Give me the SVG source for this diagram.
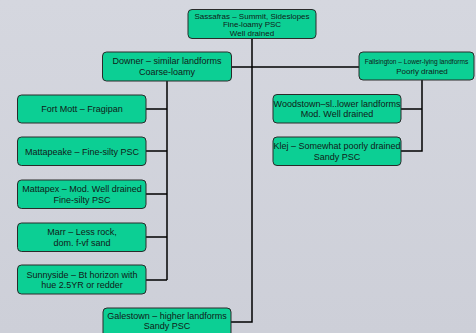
<svg xmlns="http://www.w3.org/2000/svg" width="476" height="333" viewBox="0 0 476 333">
<defs>
<linearGradient id="bg" x1="0" y1="0" x2="0" y2="1">
<stop offset="0" stop-color="#d5d7df"/>
<stop offset="1" stop-color="#cdcfd8"/>
</linearGradient>
<style>
.box{fill:#0ccf94;stroke:#2a2a2a;stroke-width:1}
.t{font-family:"Liberation Sans",Arial,sans-serif;font-size:9px;fill:#102018;text-anchor:middle}
.s{font-size:8px}
.c{fill:none;stroke:#000;stroke-width:1.5}
</style>
</defs>
<rect width="476" height="333" fill="url(#bg)"/>
<g id="connectors">
<path class="c" d="M252 39V322H231"/>
<path class="c" d="M232 67H359"/>
<path class="c" d="M167 81V280"/>
<path class="c" d="M146 109H167M146 151H167M146 194H167M146 237H167M146 280H167"/>
<path class="c" d="M422 80V151H401M401 109H422"/>
</g>
<g id="sassafras">
<rect class="box" x="188" y="9.5" width="128" height="29" rx="4"/>
<text class="t s" x="252" y="18.5">Sassafras – Summit, Sideslopes</text>
<text class="t s" x="252" y="27">Fine-loamy PSC</text>
<text class="t s" x="252" y="35.5">Well drained</text>
</g>
<g id="downer">
<rect class="box" x="102.5" y="52" width="129" height="29" rx="4"/>
<text class="t" x="167" y="64">Downer – similar landforms</text>
<text class="t" x="167" y="75">Coarse-loamy</text>
</g>
<g id="fallsington">
<rect class="box" x="359" y="52" width="115" height="28" rx="4"/>
<text class="t" x="416.5" y="64" style="font-size:6.6px">Fallsington – Lower-lying landforms</text>
<text class="t s" x="422" y="74">Poorly drained</text>
</g>
<g id="fortmott">
<rect class="box" x="17.5" y="95" width="128.5" height="28" rx="4"/>
<text class="t" x="82" y="112">Fort Mott – Fragipan</text>
</g>
<g id="mattapeake">
<rect class="box" x="17.5" y="137" width="128.5" height="28.5" rx="4"/>
<text class="t" x="82" y="154.5">Mattapeake – Fine-silty PSC</text>
</g>
<g id="mattapex">
<rect class="box" x="17.5" y="180" width="128.5" height="28.5" rx="4"/>
<text class="t" x="82" y="192">Mattapex – Mod. Well drained</text>
<text class="t" x="82" y="202.5">Fine-silty PSC</text>
</g>
<g id="marr">
<rect class="box" x="17.5" y="223" width="128.5" height="28.5" rx="4"/>
<text class="t" x="82" y="235">Marr – Less rock,</text>
<text class="t" x="82" y="245.5">dom. f-vf sand</text>
</g>
<g id="sunnyside">
<rect class="box" x="17.5" y="265" width="128.5" height="29" rx="4"/>
<text class="t" x="82" y="277.5">Sunnyside – Bt horizon with</text>
<text class="t" x="82" y="288">hue 2.5YR or redder</text>
</g>
<g id="woodstown">
<rect class="box" x="273" y="94.5" width="128" height="28.5" rx="4"/>
<text class="t" x="337" y="106.5">Woodstown–sl..lower landforms</text>
<text class="t" x="337" y="117">Mod. Well drained</text>
</g>
<g id="klej">
<rect class="box" x="273" y="137" width="128" height="28.5" rx="4"/>
<text class="t" x="337" y="149">Klej – Somewhat poorly drained</text>
<text class="t" x="337" y="159.5">Sandy PSC</text>
</g>
<g id="galestown">
<rect class="box" x="103" y="308" width="128" height="30" rx="4"/>
<text class="t" x="167" y="319">Galestown – higher landforms</text>
<text class="t" x="167" y="329">Sandy PSC</text>
</g>
</svg>
